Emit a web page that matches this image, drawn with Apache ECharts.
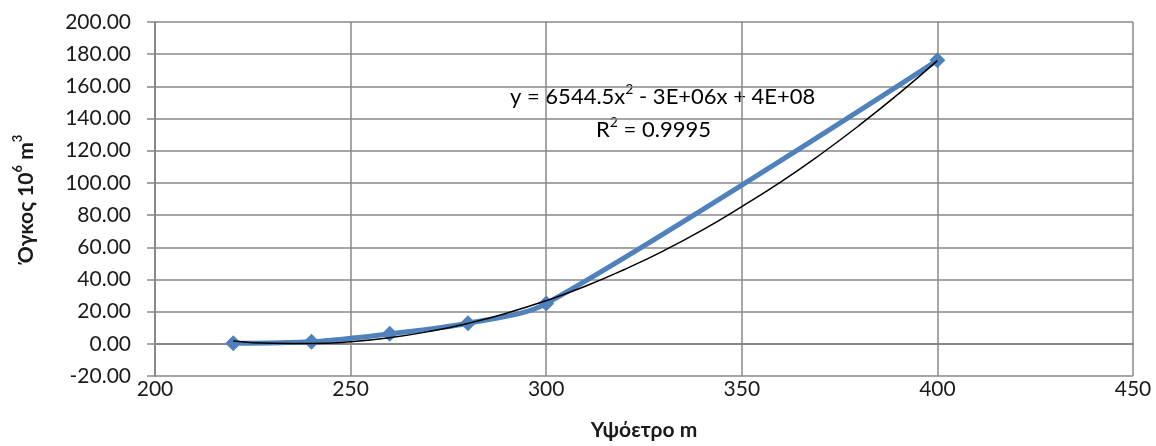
<!DOCTYPE html>
<html>
<head>
<meta charset="utf-8">
<script src="https://cdn.jsdelivr.net/npm/echarts@6/dist/echarts.min.js"></script>
<style>
  html, body { margin: 0; padding: 0; background: #fff; }
  #main { width: 1156px; height: 446px; }
</style>
</head>
<body>
<div id="main"></div>
<script>
// υψόμετρο (m) και όγκος (10^6 m3)
var elevation = [220, 240, 260, 280, 300, 400];
var volume = [0.4, 1.3, 6.2, 12.8, 25.0, 176.2];

// γραμμή τάσης (πολυωνυμική), τιμές από το διάγραμμα
var trendX = [220, 230, 240, 250, 260, 270, 280, 290, 300, 310, 320, 330, 340, 350, 360, 370, 380, 390, 400];
var trendY = [1.8, 0.3, 0.2, 1.3, 3.8, 7.6, 12.7, 19.1, 26.8, 35.8, 46.2, 57.8, 70.8, 85.3, 100.6, 117.5, 135.7, 155.2, 176.0];

var eqText = '{n|y = 6544.5x}{s|2}{n| - 3E+06x + 4E+08}';
var r2Text = '{n|R}{s|2}{n| = 0.9995}';

var myChart = echarts.init(document.getElementById('main'));

var pts = elevation.map(function (x, i) { return [x, volume[i]]; });
var trend = trendX.map(function (x, i) { return [x, trendY[i]]; });

var gridColor = '#888888';
var txt = '#1a1a1a';

var eqRich = {
    n: { fontSize: 22, fontFamily: 'Lato', color: txt, lineHeight: 26, verticalAlign: 'bottom' },
    s: { fontSize: 14, fontFamily: 'Lato', color: txt, lineHeight: 26, verticalAlign: 'top' }
};

option = {
    animation: false,
    textStyle: { fontFamily: 'Lato' },
    grid: { left: 155, right: 23, top: 22, bottom: 68 },
    xAxis: {
        type: 'value',
        min: 200, max: 450, interval: 50,
        name: 'Υψόετρο m',
        nameLocation: 'middle',
        nameGap: 44,
        nameTextStyle: { fontSize: 21, fontWeight: 'bold', color: txt },
        axisLine: { lineStyle: { color: gridColor, width: 2 } },
        axisTick: { show: false },
        axisLabel: { fontSize: 21, color: txt, margin: 3 },
        splitLine: { show: true, lineStyle: { color: gridColor, width: 1.5 } }
    },
    yAxis: {
        type: 'value',
        min: -20, max: 200, interval: 20,
        name: '{b|Όγκος 10}{s|6}{b| m}{s|3}',
        nameLocation: 'middle',
        nameGap: 118,
        nameTextStyle: {
            rich: {
                b: { fontSize: 21, fontWeight: 'bold', color: txt, fontFamily: 'Lato', lineHeight: 26, verticalAlign: 'bottom' },
                s: { fontSize: 13, fontWeight: 'bold', color: txt, fontFamily: 'Lato', lineHeight: 26, verticalAlign: 'top' }
            }
        },
        axisLine: { show: true, lineStyle: { color: gridColor, width: 2 } },
        axisTick: { show: true, length: 8, lineStyle: { color: gridColor, width: 1.5 } },
        axisLabel: {
            fontSize: 21, color: txt, margin: 24,
            formatter: function (v) { return v.toFixed(2); }
        },
        splitLine: { show: true, lineStyle: { color: gridColor, width: 1.5 } }
    },
    series: [
        {
            type: 'line',
            data: pts,
            smooth: 0.3,
            symbol: 'diamond',
            symbolSize: 16,
            lineStyle: { color: '#4f81bd', width: 5 },
            itemStyle: { color: '#4f81bd' },
            z: 2
        },
        {
            type: 'line',
            data: trend,
            smooth: true,
            symbol: 'none',
            lineStyle: { color: '#000', width: 1.5 },
            z: 3
        }
    ],
    graphic: [
        {
            type: 'text', left: 510, top: 82,
            style: { text: eqText, rich: eqRich }
        },
        {
            type: 'text', left: 596, top: 115,
            style: { text: r2Text, rich: eqRich }
        }
    ]
};

myChart.setOption(option);
</script>
</body>
</html>
